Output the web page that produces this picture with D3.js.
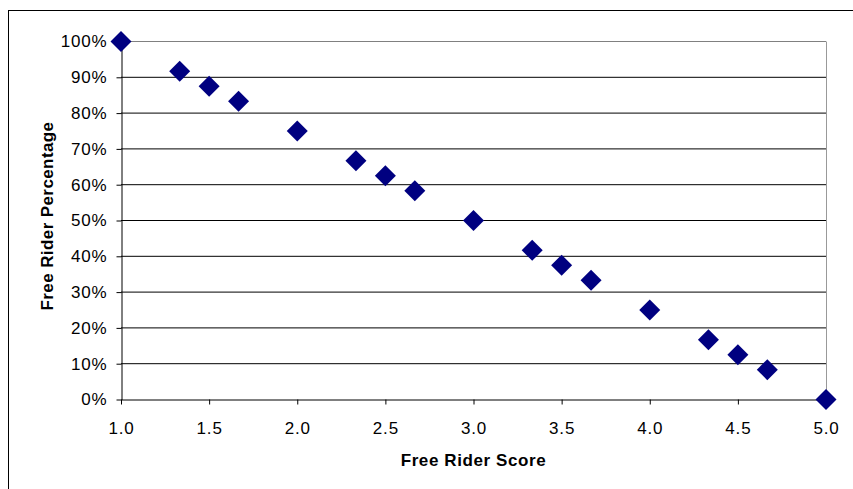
<!DOCTYPE html>
<html>
<head>
<meta charset="utf-8">
<script src="https://cdn.jsdelivr.net/npm/d3@7"></script>
<style>
  body { margin: 0; background: #fff; }
  text { font-family: "Liberation Sans", Arial, sans-serif; }
</style>
</head>
<body>
<svg id="canvas" width="853" height="489"></svg>
<script>
// scores and free rider percentages
var scores = [1.0, 1.333, 1.5, 1.667, 2.0, 2.333, 2.5, 2.667, 3.0, 3.333, 3.5, 3.667, 4.0, 4.333, 4.5, 4.667, 5.0];
var percents = [1.0, 0.9167, 0.875, 0.8333, 0.75, 0.6667, 0.625, 0.5833, 0.5, 0.4167, 0.375, 0.3333, 0.25, 0.1667, 0.125, 0.0833, 0.0];
var xTicks = [1.0, 1.5, 2.0, 2.5, 3.0, 3.5, 4.0, 4.5, 5.0];
var yTicks = [0, 0.1, 0.2, 0.3, 0.4, 0.5, 0.6, 0.7, 0.8, 0.9, 1.0];

var svg = d3.select("#canvas");
var width = +svg.attr("width");
var height = +svg.attr("height");

// outer chart border (cut off at right and bottom)
svg.append("rect")
  .attr("x", 8.5).attr("y", 10.5)
  .attr("width", 860).attr("height", 500)
  .style("fill", "none").style("stroke", "#000").style("stroke-width", 1);

var plotLeft = 121, plotRight = 826, plotTop = 41.5, plotBottom = 399.5;

var xScale = d3.scaleLinear().domain([1, 5]).range([plotLeft, plotRight]);
var yScale = d3.scaleLinear().domain([0, 1]).range([plotBottom, plotTop]);

// gridlines
svg.append("g").selectAll("line")
  .data(yTicks.filter(function(d) { return d > 0; }))
  .enter().append("line")
  .attr("x1", plotLeft).attr("x2", plotRight)
  .attr("y1", function(d) { return yScale(d); })
  .attr("y2", function(d) { return yScale(d); })
  .style("stroke", function(d) { return d === 1 ? "#808080" : "#000"; })
  .style("stroke-width", 1);

// right edge of plot area
svg.append("line")
  .attr("x1", plotRight + 0.5).attr("x2", plotRight + 0.5)
  .attr("y1", plotTop).attr("y2", plotBottom)
  .style("stroke", "#999").style("stroke-width", 1);

// y axis
var yAxis = d3.axisLeft(yScale)
  .tickValues(yTicks)
  .tickSize(5)
  .tickSizeOuter(0)
  .tickFormat(d3.format(".0%"));
var gy = svg.append("g")
  .attr("transform", "translate(" + (plotLeft + 0.5) + ",0)")
  .call(yAxis);
gy.select(".domain").style("stroke", "#000");
gy.selectAll(".tick line").style("stroke", "#000");
gy.selectAll(".tick text")
  .attr("x", -14)
  .style("font-size", "17px")
  .style("letter-spacing", "0.8px")
  .style("fill", "#000");

// x axis
var xAxis = d3.axisBottom(xScale)
  .tickValues(xTicks)
  .tickSize(5)
  .tickSizeOuter(0)
  .tickFormat(d3.format(".1f"));
var gx = svg.append("g")
  .attr("transform", "translate(0," + plotBottom + ")")
  .call(xAxis);
gx.select(".domain").style("stroke", "#000");
gx.selectAll(".tick line").style("stroke", "#000");
gx.selectAll(".tick text")
  .attr("y", 22)
  .style("font-size", "17px")
  .style("letter-spacing", "0.8px")
  .style("fill", "#000");

// diamond markers
var diamond = d3.symbol().type(d3.symbolSquare).size(220);
svg.append("g").selectAll("path")
  .data(scores)
  .enter().append("path")
  .attr("d", diamond)
  .attr("transform", function(d, i) {
    return "translate(" + xScale(d) + "," + yScale(percents[i]) + ") rotate(45)";
  })
  .style("fill", "#000080");

// axis titles
svg.append("text")
  .attr("x", (plotLeft + plotRight) / 2)
  .attr("y", 466)
  .attr("text-anchor", "middle")
  .style("font-size", "17px")
  .style("font-weight", "bold")
  .style("letter-spacing", "0.6px")
  .text("Free Rider Score");

svg.append("text")
  .attr("transform", "translate(53," + 216 + ") rotate(-90)")
  .attr("text-anchor", "middle")
  .style("font-size", "17px")
  .style("font-weight", "bold")
  .style("letter-spacing", "0.4px")
  .text("Free Rider Percentage");
</script>
</body>
</html>
